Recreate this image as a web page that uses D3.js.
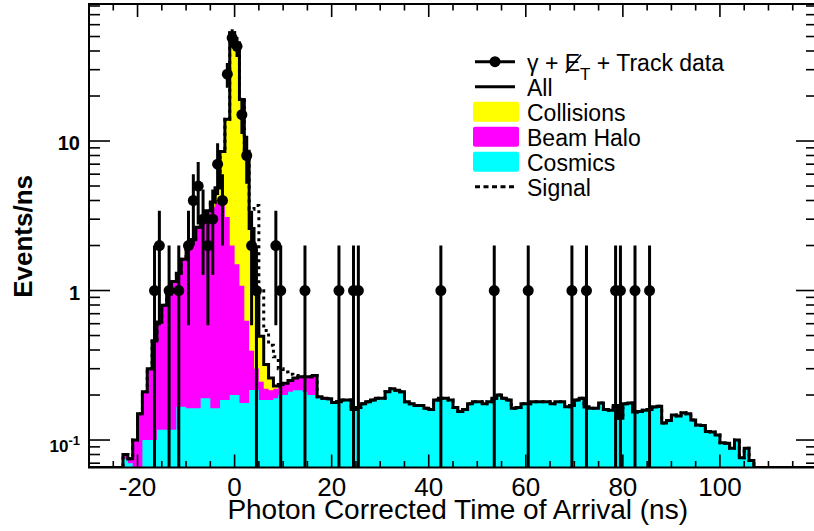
<!DOCTYPE html>
<html><head><meta charset="utf-8">
<script src="https://cdn.jsdelivr.net/npm/d3@7"></script>
<style>
body{margin:0;background:#fff}
svg{display:block}
text{font-family:"Liberation Sans",Arial,Helvetica,sans-serif;fill:#000}
</style>
</head><body>
<svg id="c" width="814" height="531"></svg>
<script>
// ---------------- data (events per 1 ns bin) ----------------
const cosmicsStart = -24;   // low edge of first cosmics bin
const cosmics = [
  0.03,0.075,0.07,0.045,0.05,0.1,0.1,0.1,0.117,0.117,0.117,0.117,
  0.167,0.167,0.163,0.163,0.163,0.19,0.19,0.163,0.163,0.185,0.185,0.2,
  0.2,0.177,0.177,0.216,0.216,0.185,0.185,0.185,0.19,0.2,0.2,0.21,
  0.215,0.215,0.21,0.2,0.2,
  0.19,0.185,0.185,0.175,0.18,0.185,0.185,0.16,0.165,0.175,0.18,0.185,
  0.19,0.19,0.21,0.22,0.215,0.21,0.18,0.175,0.17,0.17,0.163,0.16,
  0.185,0.19,0.19,0.185,0.165,0.155,0.16,0.175,0.18,0.18,0.175,0.18,
  0.19,0.2,0.19,0.185,0.163,0.165,0.175,0.175,0.18,0.18,0.18,0.18,
  0.175,0.18,0.18,0.167,0.17,0.185,0.19,0.166,0.163,0.163,0.177,0.16,
  0.158,0.17,0.14,0.175,0.177,0.154,0.155,0.158,0.16,0.166,0.168,0.13,
  0.135,0.147,0.145,0.152,0.15,0.136,0.126,0.125,0.114,0.113,0.108,0.096,
  0.095,0.088,0.1,0.076,0.088,0.073,0.05,0.03
];
const haloStart = -24;
const halo = [
  0,0.005,0.005,0.055,0.1,0.11,0.2,0.36,0.5,0.68,0.83,1.03,1.13,1.43,
  1.74,1.99,2.44,2.71,3.11,3.44,3.69,3.72,2.92,1.8,1.3,0.9,0.45,0.18,
  0.085,0.06,0.035,0.03,0.03,0.035,0.04,0.04,0.045,0.05,0.055,0.065,0.07,
  0.005,0.005,0.004,0.003
];
const collisionsStart = -12;
const collisions = [
  0.01,0.02,0.03,0.03,0.05,0.08,0.12,0.3,1.0,4.6,10.9,51,43.5,17.9,
  7.4,2.2,0.7,0.25,0.1,0.045,0.01
];
const signalStart = 0;
const signal = [0.2,0.3,0.5,0.9,2.7,0.5,0.22,0.17,0.13,0.065,0.045,0.025,0.01,0.005];

const dataTime = [-16.5,-15.5,-13.5,-11.5,-9.5,-8.5,-7.5,-6.5,-5.5,-4.5,-3.5,-2.5,
  -1.5,-0.5,0.5,1.5,2.5,3.5,4.5,8.5,9.5,14.5,21.5,24.5,25.5,42.5,53.5,60.5,
  69.5,72.5,78.5,79.5,82.5,85.5];
const dataCounts = [1,2,1,1,2,4,5,3,2,3,7,4,28,49,43,15,8,2,1,2,1,1,1,1,1,1,1,1,1,1,1,1,1,1];

const xTickValues = [-20,0,20,40,60,80,100];
const yMajorTicks = [0.1,1,10];
const yTickText = ["10","1","10"];
const yTickSup = ["-1","",""];
const legendLabels = ["γ + ","All","Collisions","Beam Halo","Cosmics","Signal"];
const colors = {collisions:"#ffff00", halo:"#ff00ff", cosmics:"#00ffff"};

// ---------------- layout ----------------
const X0 = -30, X1 = 120, YMIN = 0.0655, YMAX = 82.5;
const pL = 89, pR = 817, pT = 4, pB = 467.5;
const svg = d3.select("#c");
const x = d3.scaleLinear().domain([X0, X1]).range([pL, pR]);
const y = d3.scaleLog().domain([YMIN, YMAX]).range([pB, pT]);

svg.append("defs").append("clipPath").attr("id","pa")
  .append("rect").attr("x",pL).attr("y",pT).attr("width",pR-pL).attr("height",pB-pT);

const get = (arr, start, t) => { const i = t - start; return (i >= 0 && i < arr.length) ? arr[i] : 0; };
const bins = d3.range(X0, X1);
const hist = bins.map(t => {
  const c = get(cosmics, cosmicsStart, t);
  const h = c + get(halo, haloStart, t);
  const a = h + get(collisions, collisionsStart, t);
  const s = a + get(signal, signalStart, t);
  return {t, c, h, a, s};
});
const pts = hist.concat([{...hist[hist.length-1], t: X1}]);
const clampY = v => y(Math.max(v, YMIN));

const g = svg.append("g").attr("clip-path","url(#pa)");
const area = key => d3.area().curve(d3.curveStepAfter)
  .x(d => x(d.t)).y0(pB).y1(d => clampY(d[key]));
const line = key => d3.line().curve(d3.curveStepAfter)
  .x(d => x(d.t)).y(d => clampY(d[key]));

g.append("path").attr("d", area("a")(pts)).attr("fill", colors.collisions);
g.append("path").attr("d", area("h")(pts)).attr("fill", colors.halo);
g.append("path").attr("d", area("c")(pts)).attr("fill", colors.cosmics);
g.append("path").attr("d", line("s")(pts)).attr("fill","none").attr("stroke","#000")
  .attr("stroke-width",3).attr("stroke-dasharray","3,4");
g.append("path").attr("d", line("a")(pts)).attr("fill","none").attr("stroke","#000")
  .attr("stroke-width",3);

// data points
const data = dataTime.map((t,i) => ({t, n: dataCounts[i]}));
g.selectAll("line.err").data(data).enter().append("line")
  .attr("x1", d => x(d.t)).attr("x2", d => x(d.t))
  .attr("y1", d => clampY(d.n - Math.sqrt(d.n)))
  .attr("y2", d => y(d.n + Math.sqrt(d.n)))
  .attr("stroke","#000").attr("stroke-width",3);
g.selectAll("circle.pt").data(data).enter().append("circle")
  .attr("cx", d => x(d.t)).attr("cy", d => y(d.n)).attr("r",5.5).attr("fill","#000");

// ---------------- axes ----------------
const ax = svg.append("g").attr("stroke","#000").attr("stroke-width",1.6);
d3.range(X0, X1 + 0.1, 5).forEach(t => {
  const L = (t % 20 === 0) ? 13 : 6.5;
  ax.append("line").attr("x1",x(t)).attr("x2",x(t)).attr("y1",pB).attr("y2",pB-L);
  ax.append("line").attr("x1",x(t)).attr("x2",x(t)).attr("y1",pT).attr("y2",pT+L);
});
const yTicksAll = [];
[0.01,0.1,1,10].forEach(dec => { for (let k=1;k<10;k++){ const v=k*dec; if (v>=YMIN && v<=YMAX) yTicksAll.push({v, major:k===1}); } });
yTicksAll.forEach(d => {
  const L = d.major ? 21 : 11;
  ax.append("line").attr("x1",pL).attr("x2",pL+L).attr("y1",y(d.v)).attr("y2",y(d.v));
  ax.append("line").attr("x1",pR).attr("x2",pR-L).attr("y1",y(d.v)).attr("y2",y(d.v));
});
svg.append("rect").attr("x",pL).attr("y",pT).attr("width",pR-pL).attr("height",pB-pT)
  .attr("fill","none").attr("stroke","#000").attr("stroke-width",2);

// x tick labels
svg.selectAll("text.xt").data(xTickValues).enter().append("text")
  .attr("x", d => x(d)).attr("y", 496).attr("text-anchor","middle")
  .attr("font-size",26).text(d => d);
// y tick labels
yMajorTicks.forEach((v,i) => {
  const t = svg.append("text").attr("x",80).attr("text-anchor","end")
    .attr("font-weight","bold");
  if (yTickSup[i]) {
    t.attr("y", y(v) + 12).attr("font-size",17);
    t.append("tspan").text(yTickText[i]);
    t.append("tspan").attr("dy",-7).attr("font-size",13).text(yTickSup[i]);
  } else {
    t.attr("y", y(v) + 9).attr("font-size",20).text(yTickText[i]);
  }
});
// axis titles
svg.append("text").attr("x",688).attr("y",519).attr("text-anchor","end")
  .attr("font-size",28).text("Photon Corrected Time of Arrival (ns)");
svg.append("text").attr("transform","translate(32,175) rotate(-90)").attr("text-anchor","end")
  .attr("font-size",26).attr("font-weight","bold").text("Events/ns");

// ---------------- legend ----------------
const lg = svg.append("g");
const ly = i => 61.7 + 25*i;
const sx0 = 475, sx1 = 515, tx = 527;
lg.append("line").attr("x1",sx0).attr("x2",sx1).attr("y1",ly(0)).attr("y2",ly(0)).attr("stroke","#000").attr("stroke-width",3);
lg.append("circle").attr("cx",(sx0+sx1)/2).attr("cy",ly(0)).attr("r",5.5).attr("fill","#000");
const t0 = lg.append("text").attr("x",tx).attr("y",ly(0)+9).attr("font-size",23);
t0.append("tspan").text(legendLabels[0]);
t0.append("tspan").text("E");
t0.append("tspan").attr("dy",9).attr("font-size",17).text("T");
t0.append("tspan").attr("dy",-9).text(" + Track data");
const eBox = t0.node().getExtentOfChar(legendLabels[0].length);
lg.append("line").attr("x1",eBox.x+1).attr("y1",eBox.y+eBox.height-3)
  .attr("x2",eBox.x+eBox.width+1).attr("y2",eBox.y+5).attr("stroke","#000").attr("stroke-width",1.6);
lg.append("line").attr("x1",sx0).attr("x2",sx1).attr("y1",ly(1)).attr("y2",ly(1)).attr("stroke","#000").attr("stroke-width",3);
[colors.collisions, colors.halo, colors.cosmics].forEach((c,i) => {
  lg.append("rect").attr("x",473).attr("y",ly(i+2)-10).attr("width",46).attr("height",20)
    .attr("rx",2).attr("fill",c);
});
lg.append("line").attr("x1",sx0).attr("x2",sx1).attr("y1",ly(5)).attr("y2",ly(5)).attr("stroke","#000")
  .attr("stroke-width",3).attr("stroke-dasharray","5,3.5");
legendLabels.slice(1).forEach((s,i) => {
  lg.append("text").attr("x",tx).attr("y",ly(i+1)+9.5).attr("font-size",23).text(s);
});
</script>
</body></html>
